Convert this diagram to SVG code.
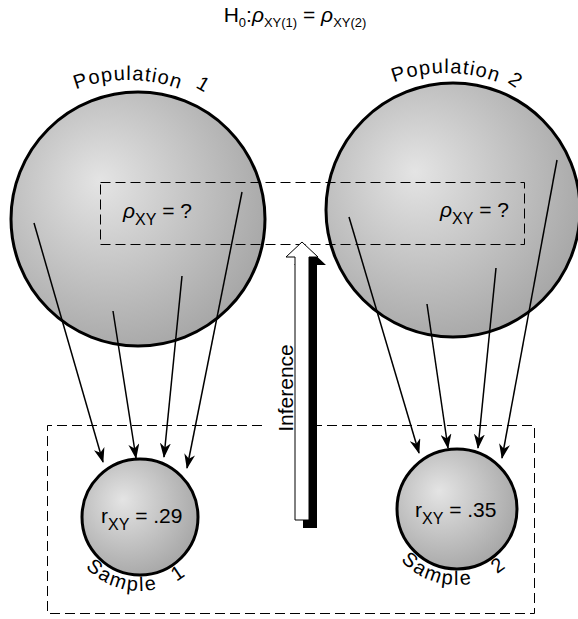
<svg xmlns="http://www.w3.org/2000/svg" width="578" height="619" viewBox="0 0 578 619">
<defs>
<radialGradient id="ball" cx="0.4" cy="0.4" r="0.65" fx="0.35" fy="0.35">
<stop offset="0" stop-color="#e4e4e4"/>
<stop offset="1" stop-color="#a6a6a6"/>
</radialGradient>
<marker id="ah" viewBox="0 0 15 11" refX="14" refY="5.5" markerWidth="15" markerHeight="11" markerUnits="userSpaceOnUse" orient="auto">
<path d="M0,0 L15,5.5 L0,11 L4.5,5.5 z" fill="#000"/>
</marker>
<path id="arcP1" d="M -22,230 A 150 150 0 0 1 278,230"/>
<path id="arcP2" d="M 296,223 A 150 150 0 0 1 596,223"/>
<path id="arcS1" d="M 66,517 A 74 74 0 0 0 214,517"/>
<path id="arcS2" d="M 381,509 A 76 76 0 0 0 533,509"/>
</defs>
<style>
.t{font-family:"Liberation Sans",Arial,sans-serif;font-size:21px;fill:#000}
.c{font-size:20px}
.ball{fill:url(#ball);stroke:#000;stroke-width:3}
.dash{fill:none;stroke:#000;stroke-width:1;stroke-dasharray:10,5}
.conn{stroke:#000;stroke-width:1.5;fill:none;marker-end:url(#ah)}
.sp{letter-spacing:1.2px}
.ss{letter-spacing:2px}
</style>

<text class="t" x="295" y="22" text-anchor="middle" font-size="17">H<tspan dy="5" font-size="13">0</tspan><tspan dy="-5">:</tspan><tspan font-style="italic">ρ</tspan><tspan dy="5" font-size="13">XY(1)</tspan><tspan dy="-5"> = </tspan><tspan font-style="italic">ρ</tspan><tspan dy="5" font-size="13">XY(2)</tspan></text>

<g id="population1">
<circle class="ball" cx="138" cy="219" r="127"/>
<text class="t c sp"><textPath href="#arcP1" startOffset="235.6" text-anchor="middle">Population</textPath></text>
<text class="t c" transform="translate(195,87) rotate(30)">1</text>
</g>

<g id="population2">
<circle class="ball" cx="453" cy="210" r="127"/>
<text class="t c sp"><textPath href="#arcP2" startOffset="235.6" text-anchor="middle">Population</textPath></text>
<text class="t c" transform="translate(507,82) rotate(35)">2</text>
</g>

<g id="parameter-box">
<rect class="dash" x="100.5" y="182.5" width="424" height="62"/>
<text class="t" x="123" y="218"><tspan font-style="italic">ρ</tspan><tspan dy="7" font-size="16">XY</tspan><tspan dy="-7"> = ?</tspan></text>
<text class="t" x="440" y="217"><tspan font-style="italic">ρ</tspan><tspan dy="7" font-size="16">XY</tspan><tspan dy="-7"> = ?</tspan></text>
</g>

<g id="sample-box">
<path class="dash" d="M262,425.5 H47.5 V613.5 H534.5 V425.5 H317"/>
</g>

<g id="sample1">
<circle class="ball" cx="140" cy="517" r="58"/>
<text class="t" x="101" y="523">r<tspan dy="7" font-size="16">XY</tspan><tspan dy="-7"> = .29</tspan></text>
<text class="t c ss"><textPath href="#arcS1" startOffset="55">Sample</textPath></text>
<text class="t c"><textPath href="#arcS1" startOffset="154">1</textPath></text>
</g>

<g id="sample2">
<circle class="ball" cx="457" cy="509" r="60"/>
<text class="t" x="415" y="517">r<tspan dy="7" font-size="16">XY</tspan><tspan dy="-7"> = .35</tspan></text>
<text class="t c ss"><textPath href="#arcS2" startOffset="56">Sample</textPath></text>
<text class="t c"><textPath href="#arcS2" startOffset="161">2</textPath></text>
</g>

<g id="inference">
<polygon points="310,250 326,265 317,265 317,528 303,528 303,265 294,265" fill="#000"/>
<polygon points="302,242 318,257 309,257 309,520 295,520 295,257 286,257" fill="#fff" stroke="#000" stroke-width="1"/>
<text class="t" font-size="21" text-anchor="middle" transform="translate(293,388) rotate(-90)">Inference</text>
</g>

<g id="connectors">
<line class="conn" x1="34" y1="223" x2="103" y2="462"/>
<line class="conn" x1="113" y1="311" x2="136" y2="458"/>
<line class="conn" x1="182" y1="276" x2="164" y2="457"/>
<line class="conn" x1="242" y1="192" x2="187" y2="468"/>
<line class="conn" x1="349" y1="217" x2="419" y2="453"/>
<line class="conn" x1="427" y1="304" x2="448" y2="448"/>
<line class="conn" x1="496" y1="268" x2="478" y2="448"/>
<line class="conn" x1="557" y1="160" x2="502" y2="458"/>
</g>
</svg>
